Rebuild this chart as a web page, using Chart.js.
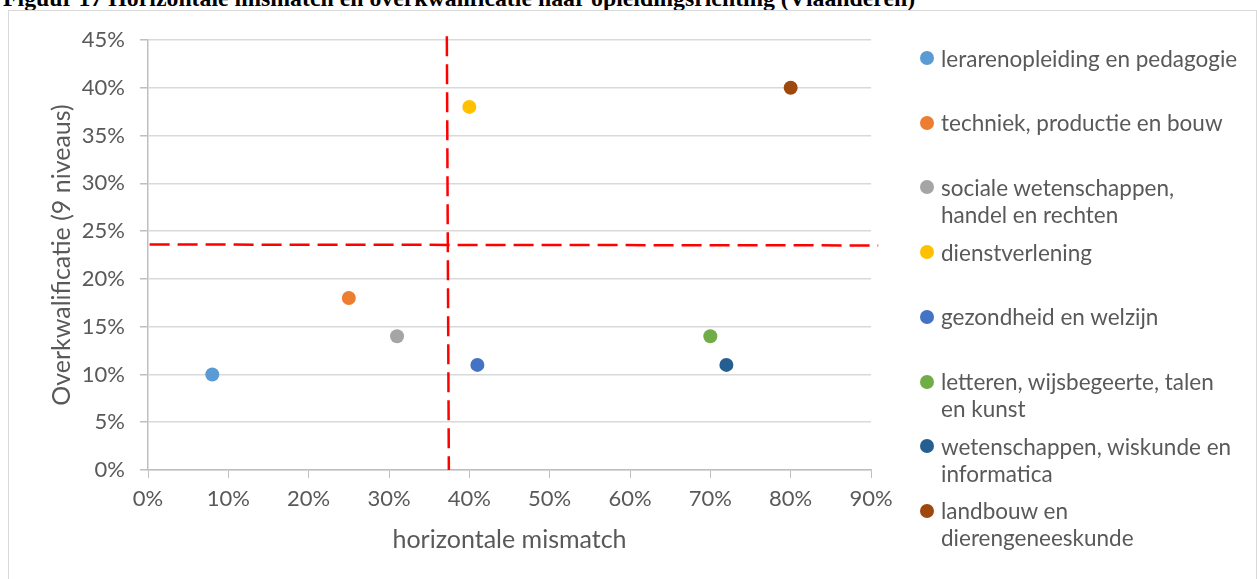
<!DOCTYPE html>
<html>
<head>
<meta charset="utf-8">
<script src="https://cdn.jsdelivr.net/npm/chart.js@4"></script>
<style>
  html, body { margin:0; padding:0; background:#fff; width:1257px; height:579px; overflow:hidden; }
  #title { position:absolute; left:3px; top:-14px; font-family:"Liberation Serif","Times New Roman",serif; font-weight:bold; font-size:23.8px; line-height:24px; color:#000; white-space:nowrap; }
  #frame { position:absolute; left:8px; top:10px; width:1247px; height:600px; border:1px solid #d9d9d9; }
  #chart { position:absolute; left:0; top:0; }
  #legend { position:absolute; left:0; top:0; font-family:Lato, "Open Sans", sans-serif; font-size:22.5px; color:#595959; }
  .item { position:absolute; left:941px; line-height:27px; white-space:nowrap; }
  .dot { position:absolute; width:14px; height:14px; border-radius:50%; }
</style>
</head>
<body>
<div id="title">Figuur 17 Horizontale mismatch en overkwalificatie naar opleidingsrichting (Vlaanderen)</div>
<div id="frame"></div>
<canvas id="chart" width="1257" height="579"></canvas>
<div id="legend"></div>
<script>
const categories = [
  ["lerarenopleiding en pedagogie"],
  ["techniek, productie en bouw"],
  ["sociale wetenschappen,", "handel en rechten"],
  ["dienstverlening"],
  ["gezondheid en welzijn"],
  ["letteren, wijsbegeerte, talen", "en kunst"],
  ["wetenschappen, wiskunde en", "informatica"],
  ["landbouw en", "dierengeneeskunde"]
];
const horizontalMismatch = [8, 25, 31, 40, 41, 70, 72, 80];
const overkwalificatie   = [10, 18, 14, 38, 11, 14, 11, 40];
const colors = ["#5B9BD5", "#ED7D31", "#A5A5A5", "#FFC000", "#4472C4", "#70AD47", "#255E91", "#9E480E"];
const verticalLineX = [37.2, 37.45];
const verticalLineY = [45.4, 0];
const horizontalLineX = [0.2, 90.9];
const horizontalLineY = [23.6, 23.5];
const xTitle = "horizontale mismatch";
const yTitle = "Overkwalificatie (9 niveaus)";

const datasets = categories.map((c, i) => ({
  label: c.join(" "),
  data: [{x: horizontalMismatch[i], y: overkwalificatie[i]}],
  backgroundColor: colors[i],
  borderColor: colors[i],
  borderWidth: 0,
  pointRadius: 7,
  pointHoverRadius: 7
}));
datasets.push({
  type: "line", label: "_v",
  data: verticalLineX.map((x, i) => ({x, y: verticalLineY[i]})),
  borderColor: "#FF0000", borderWidth: 2.5, borderDash: [20, 8], pointRadius: 0, clip: false, fill: false
});
datasets.push({
  type: "line", label: "_h",
  data: horizontalLineX.map((x, i) => ({x, y: horizontalLineY[i]})),
  borderColor: "#FF0000", borderWidth: 2.5, borderDash: [20, 8], pointRadius: 0, clip: false, fill: false
});

const family = "Lato, 'Open Sans', sans-serif";
const tickFont = {family, size: 22};
const titleFont = {family, size: 25};
new Chart(document.getElementById("chart"), {
  type: "scatter",
  data: {datasets},
  options: {
    responsive: false,
    animation: false,
    devicePixelRatio: 1,
    layout: {padding: {left: 0, top: 40, right: 386, bottom: 0}},
    plugins: {legend: {display: false}, tooltip: {enabled: false}},
    scales: {
      x: {
        type: "linear", min: 0, max: 90,
        ticks: {stepSize: 10, color: "#595959", font: tickFont, padding: 8, callback: v => v + "%"},
        grid: {drawOnChartArea: false, drawTicks: true, tickLength: 8, tickColor: "#bfbfbf", color: "#bfbfbf"},
        border: {color: "#bfbfbf", width: 1.5},
        title: {display: true, text: xTitle, color: "#595959", font: titleFont, padding: {top: 0, bottom: 24}},
        afterFit: s => { s.height = 109; }
      },
      y: {
        type: "linear", min: 0, max: 45,
        ticks: {stepSize: 5, color: "#595959", font: tickFont, padding: 15, callback: v => v + "%"},
        grid: {color: "#d9d9d9", lineWidth: 1.5, drawTicks: true, tickLength: 8, tickColor: "#bfbfbf"},
        border: {color: "#bfbfbf", width: 1.5},
        title: {display: true, text: yTitle, color: "#595959", font: titleFont, padding: {top: 47, bottom: 0}},
        afterFit: s => { s.width = 148; }
      }
    }
  }
});

const legend = document.getElementById("legend");
categories.forEach((c, i) => {
  const center = 58 + i * 64.7;
  const dot = document.createElement("div");
  dot.className = "dot";
  dot.style.background = colors[i];
  dot.style.left = "920px";
  dot.style.top = (center - 7) + "px";
  legend.appendChild(dot);
  const item = document.createElement("div");
  item.className = "item";
  item.style.top = (center - 13.5) + "px";
  item.innerHTML = c.join("<br>");
  legend.appendChild(item);
});
</script>
</body>
</html>
